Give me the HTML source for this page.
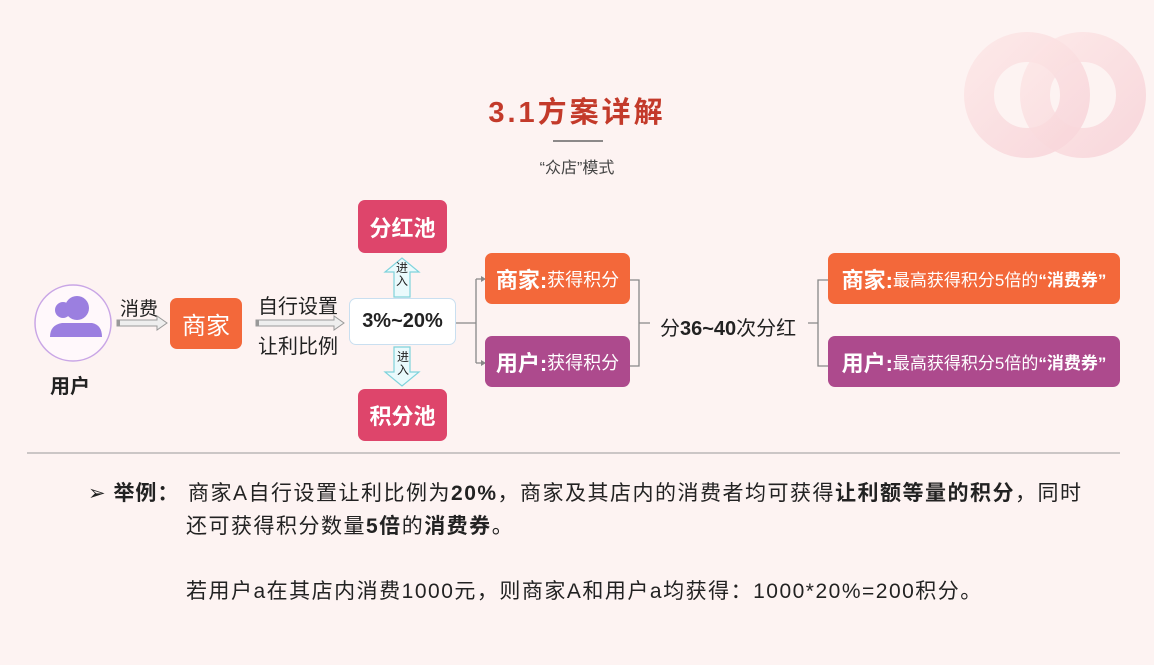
<!DOCTYPE html>
<html><head><meta charset="utf-8"><style>
body{margin:0;width:1154px;height:665px;background:#fdf3f2;position:relative;overflow:hidden;font-family:"Liberation Sans","Noto Sans CJK SC",sans-serif;}
.a{position:absolute;}
.box{position:absolute;border-radius:7px;color:#fff;display:flex;align-items:center;justify-content:center;white-space:nowrap;}
.or{background:#f3683a;}.pk{background:#de456b;}.pu{background:#ad4a8d;}
.t{position:absolute;white-space:nowrap;color:#222;}
b{font-weight:bold;}
</style></head><body>
<svg class="a" style="left:0;top:0" width="1154" height="665">
<defs><linearGradient id="g" x1="0" y1="0" x2="1" y2="1"><stop offset="0" stop-color="#fce4e4"/><stop offset="1" stop-color="#f7d0d6"/></linearGradient></defs>
<circle cx="1027" cy="95" r="48" fill="none" stroke="url(#g)" stroke-width="30" opacity=".75"/>
<circle cx="1083" cy="95" r="48" fill="none" stroke="url(#g)" stroke-width="30" opacity=".75"/>
<line x1="553" y1="141" x2="603" y2="141" stroke="#666" stroke-width="1.5"/>
<circle cx="73" cy="323" r="38" fill="#fff8fb" stroke="#c9a6e6" stroke-width="1.5"/>
<circle cx="63" cy="310" r="8" fill="#9b7fe0"/><circle cx="77" cy="308" r="12" fill="#9b7fe0"/>
<path d="M50 337 q0-12 12-14 h30 q10 2 10 14 z" fill="#9b7fe0"/>
<g fill="#eee" stroke="#999" stroke-width="1"><path d="M117 320 h40 v-4 l10 7 -10 7 v-4 h-40z"/><path d="M256 320 h78 v-4 l10 7 -10 7 v-4 h-78z"/></g>
<rect x="117" y="320" width="3" height="6" fill="#999"/><rect x="256" y="320" width="3" height="6" fill="#999"/>
<g fill="#eafafc" stroke="#7fd3dc" stroke-width="1.2"><path d="M394 297 v-25 h-9 l17 -14 17 14 h-9 v25z"/><path d="M394 347 v25 h-9 l17 14 17 -14 h-9 v-25z"/></g>
<g stroke="#888" stroke-width="1.3" fill="none"><path d="M456 323 h20 M476 279 v84 M476 279 h5 M476 363 h5"/>
<path d="M630 280 h9 v86 h-9 M639 323 h11"/><path d="M828 280 h-10 v86 h10 M818 323 h-10"/></g>
<path d="M481 276 l5 3 -5 3z M481 360 l5 3 -5 3z" fill="#888"/>
<line x1="27" y1="453" x2="1120" y2="453" stroke="#999" stroke-width="1"/>
</svg>
<div class="t" style="left:0;width:1154px;top:89px;text-align:center;font-size:29px;font-weight:bold;color:#c33a2a;letter-spacing:3px">3.1方案详解</div>
<div class="t" style="left:0;width:1154px;top:154px;text-align:center;font-size:16px;color:#444">“众店”模式</div>
<div class="t" style="left:50px;top:370px;font-size:20px;font-weight:bold">用户</div>
<div class="t" style="left:120px;top:294px;font-size:19px">消费</div>
<div class="box or" style="left:170px;top:298px;width:72px;height:51px;font-size:24px">商家</div>
<div class="t" style="left:258px;top:290px;font-size:20px">自行设置</div>
<div class="t" style="left:258px;top:330px;font-size:20px">让利比例</div>
<div class="box" style="left:349px;top:298px;width:105px;height:45px;background:#fff;border:1px solid #c9dff0;color:#222;font-size:20px;font-weight:bold">3%~20%</div>
<div class="box pk" style="left:358px;top:200px;width:89px;height:53px;font-size:22px;font-weight:bold">分红池</div>
<div class="box pk" style="left:358px;top:389px;width:89px;height:52px;font-size:22px;font-weight:bold">积分池</div>
<div class="t" style="left:396px;top:262px;font-size:12px;line-height:13px;width:12px">进<br>入</div>
<div class="t" style="left:397px;top:351px;font-size:12px;line-height:13px;width:12px">进<br>入</div>
<div class="box or" style="left:485px;top:253px;width:145px;height:51px;font-size:18px"><b style="font-size:22px">商家:</b>获得积分</div>
<div class="box pu" style="left:485px;top:336px;width:145px;height:51px;font-size:18px"><b style="font-size:22px">用户:</b>获得积分</div>
<div class="t" style="left:660px;top:312px;font-size:20px">分<b>36~40</b>次分红</div>
<div class="box or" style="left:828px;top:253px;width:292px;height:51px;font-size:17px"><b style="font-size:22px">商家:</b>最高获得积分5倍的<b>“消费券”</b></div>
<div class="box pu" style="left:828px;top:336px;width:292px;height:51px;font-size:17px"><b style="font-size:22px">用户:</b>最高获得积分5倍的<b>“消费券”</b></div>
<div class="t" style="left:88px;top:477px;font-size:21px;letter-spacing:1px">➢ <b>举例：</b></div>
<div class="t" style="left:188px;top:477px;font-size:21px;letter-spacing:1.5px">商家A自行设置让利比例为<b>20%</b>，商家及其店内的消费者均可获得<b>让利额等量的积分</b>，同时</div>
<div class="t" style="left:186px;top:510px;font-size:21px;letter-spacing:1.5px">还可获得积分数量<b>5倍</b>的<b>消费券</b>。</div>
<div class="t" style="left:186px;top:575px;font-size:21px;letter-spacing:1.5px">若用户a在其店内消费1000元，则商家A和用户a均获得：1000*20%=200积分。</div>
</body></html>
